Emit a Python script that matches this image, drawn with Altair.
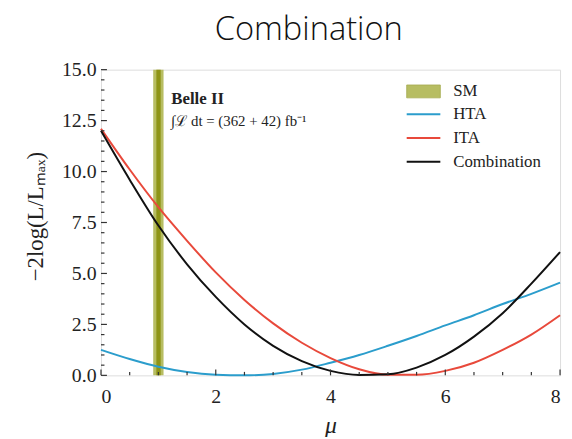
import altair as alt
import pandas as pd

# ---- data ----
mu = [0, 0.5, 1, 1.5, 2, 2.5, 3, 3.5, 4, 4.5, 5, 5.5, 6, 6.5, 7, 7.5, 8]
hta = [1.25, 0.80, 0.42, 0.16, 0.03, 0.00, 0.07, 0.28, 0.62, 1.00, 1.45, 1.93, 2.45, 2.95, 3.50, 4.00, 4.55]
ita = [12.1, 10.1, 8.25, 6.60, 5.05, 3.70, 2.55, 1.60, 0.85, 0.30, 0.03, 0.03, 0.22, 0.62, 1.25, 2.00, 2.95]
comb = [12.0, 9.60, 7.35, 5.45, 3.85, 2.50, 1.45, 0.70, 0.22, 0.02, 0.05, 0.38, 1.00, 1.90, 3.05, 4.50, 6.05]

series_names = ["HTA", "ITA", "Combination"]
series_colors = ["#2b9dcc", "#e8493b", "#111111"]

sm_band = [0.91, 1.09]
sm_core = [0.965, 1.04]

x_major = [0, 2, 4, 6, 8]
x_minor = [0.5, 1, 1.5, 2.5, 3, 3.5, 4.5, 5, 5.5, 6.5, 7, 7.5]
y_major = [0, 2.5, 5, 7.5, 10, 12.5, 15]
y_minor = [0.5, 1, 1.5, 2, 3, 3.5, 4, 4.5, 5.5, 6, 6.5, 7, 8, 8.5, 9, 9.5,
           10.5, 11, 11.5, 12, 13, 13.5, 14, 14.5]

legend_labels = ["SM", "HTA", "ITA", "Combination"]
title_text = "Combination"

# ---- styling ----
W, H = 464, 309
SERIF = "Liberation Serif"
SM_LIGHT = "#b7bd62"
SM_DARK = "#8e9416"

xs = alt.Scale(domain=[0, 8], nice=False, zero=False)
ys = alt.Scale(domain=[0, 15], nice=False, zero=False)

xaxis = alt.Axis(values=x_major, format="d", tickSize=0, domain=False, grid=False,
                 labelPadding=11, title="μ", titleFontStyle="italic", titleFontWeight="normal",
                 titleFontSize=24, titleFont=SERIF, titleY=51, titleBaseline="middle",
                 labelFont=SERIF, labelFontSize=20, labelColor="#222", titleColor="#222")
yaxis = alt.Axis(values=y_major, format=".1f", tickSize=0, domain=False, grid=False,
                 labelPadding=5, title="−2log(L/Lₘₐₓ)", titleFontWeight="normal",
                 titleFontSize=23, titleFont=SERIF, titleX=-66, titleY=148,
                 titleAngle=270, titleAlign="center", titleBaseline="middle",
                 labelFont=SERIF, labelFontSize=20, labelColor="#222", titleColor="#222")

# curves
rows = []
for name, vals in zip(series_names, [hta, ita, comb]):
    for m, v in zip(mu, vals):
        rows.append({"mu": m, "val": v, "series": name})
curves_df = pd.DataFrame(rows)

curves = alt.Chart(curves_df).mark_line(strokeWidth=2, interpolate="monotone").encode(
    x=alt.X("mu:Q", scale=xs, axis=xaxis),
    y=alt.Y("val:Q", scale=ys, axis=yaxis),
    color=alt.Color("series:N", scale=alt.Scale(domain=series_names, range=series_colors), legend=None),
    detail="series:N",
)

band = alt.Chart(pd.DataFrame({"lo": [sm_band[0]], "hi": [sm_band[1]]})).mark_rect(
    color=SM_LIGHT).encode(
    x=alt.X("lo:Q", scale=xs, axis=xaxis), x2="hi:Q",
    y=alt.value(0), y2=alt.value(H))
core = alt.Chart(pd.DataFrame({"lo": [sm_core[0]], "hi": [sm_core[1]]})).mark_rect(
    color=SM_DARK).encode(
    x=alt.X("lo:Q", scale=xs, axis=xaxis), x2="hi:Q",
    y=alt.value(0), y2=alt.value(H))

# inward ticks
def yticks(vals, length):
    return alt.Chart(pd.DataFrame({"v": vals})).mark_rule(color="#333", strokeWidth=1.2).encode(
        y=alt.Y("v:Q", scale=ys, axis=yaxis), x=alt.value(0), x2=alt.value(length))

def xticks(vals, length):
    return alt.Chart(pd.DataFrame({"v": vals})).mark_rule(color="#333", strokeWidth=1.2).encode(
        x=alt.X("v:Q", scale=xs, axis=xaxis), y=alt.value(H), y2=alt.value(H - length))

# title as text above the plot
title_mark = alt.Chart(pd.DataFrame({"t": [title_text]})).mark_text(
    align="center", baseline="alphabetic", font="Open Sans", fontSize=33, fontWeight=300,
    color="#111"
).encode(x=alt.value(210), y=alt.value(-30), text="t:N")

# annotation
ann1 = alt.Chart(pd.DataFrame({"t": ["Belle II"]})).mark_text(
    align="left", baseline="alphabetic", font=SERIF, fontSize=17, fontWeight="bold", color="#222"
).encode(x=alt.value(71), y=alt.value(35), text="t:N")
ann2 = alt.Chart(pd.DataFrame({"t": ["∫ℒ dt = (362 + 42) fb⁻¹"]})).mark_text(
    align="left", baseline="alphabetic", font=SERIF, fontSize=15, color="#222"
).encode(x=alt.value(71), y=alt.value(57), text="t:N")

# manual legend
leg_y = [22, 45, 69, 93]
legend_layers = []
sm_patch = alt.Chart(pd.DataFrame({"a": [0]})).mark_rect(
    color=SM_LIGHT, stroke="#a5ab50", strokeWidth=0.8).encode(
    x=alt.value(309), x2=alt.value(343), y=alt.value(leg_y[0] - 6.5), y2=alt.value(leg_y[0] + 6.5))
legend_layers.append(sm_patch)
for i, col in enumerate(series_colors):
    legend_layers.append(
        alt.Chart(pd.DataFrame({"a": [0]})).mark_rule(color=col, strokeWidth=2).encode(
            x=alt.value(309), x2=alt.value(343), y=alt.value(leg_y[i + 1])))
for lab, yy in zip(legend_labels, leg_y):
    legend_layers.append(
        alt.Chart(pd.DataFrame({"t": [lab]})).mark_text(
            align="left", baseline="middle", font=SERIF, fontSize=17, color="#222"
        ).encode(x=alt.value(356), y=alt.value(yy), text="t:N"))

chart = alt.layer(
    band, core, curves,
    yticks(y_major, 6), yticks(y_minor, 3.5),
    xticks(x_major, 6), xticks(x_minor, 3.5),
    title_mark, ann1, ann2, *legend_layers
).properties(
    width=W, height=H,
    autosize=alt.AutoSizeParams(type="none"),
    padding={"left": 94, "top": 60, "right": 4, "bottom": 60},
).configure_view(stroke="#3a3a3a", strokeWidth=1.4).configure(background="white")

chart.save("out.html", embed_options={"renderer": "svg", "actions": False})
